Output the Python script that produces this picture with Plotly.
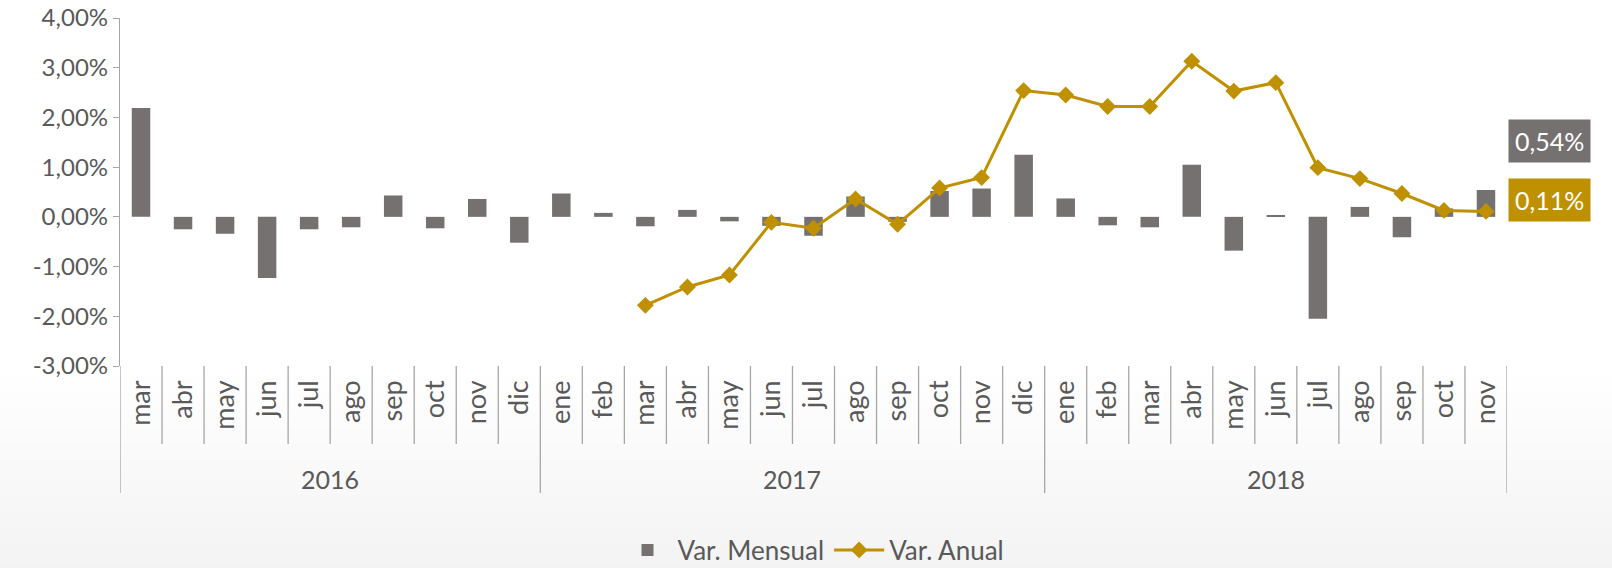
import plotly.graph_objects as go

# ---- data ----
months = ["mar", "abr", "may", "jun", "jul", "ago", "sep", "oct", "nov", "dic",
          "ene", "feb", "mar", "abr", "may", "jun", "jul", "ago", "sep", "oct", "nov", "dic",
          "ene", "feb", "mar", "abr", "may", "jun", "jul", "ago", "sep", "oct", "nov"]
years = ["2016", "2017", "2018"]
year_counts = [10, 12, 11]
y_ticks = [-3, -2, -1, 0, 1, 2, 3, 4]

var_mensual = [2.19, -0.25, -0.34, -1.23, -0.25, -0.21, 0.43, -0.23, 0.36, -0.52,
               0.47, 0.08, -0.19, 0.14, -0.09, -0.18, -0.38, 0.41, -0.10, 0.52, 0.57, 1.25,
               0.37, -0.17, -0.21, 1.05, -0.68, 0.02, -2.05, 0.20, -0.41, 0.17, 0.54]
var_anual = [None] * 12 + [-1.78, -1.41, -1.17, -0.11, -0.23, 0.36, -0.15, 0.58, 0.79, 2.54,
                          2.45, 2.22, 2.22, 3.13, 2.53, 2.70, 0.99, 0.77, 0.47, 0.13, 0.11]

GRAY = "#767171"
GOLD = "#BF9000"
AXIS = "#A6A6A6"
TXT = "#595959"
FONT = "Lato, 'Open Sans', sans-serif"


def fmt(v):
    return f"{v:.2f}".replace(".", ",") + "%"


x = list(range(len(months)))
n = len(months)

fig = go.Figure()
fig.add_trace(go.Bar(x=x, y=var_mensual, name="Var. Mensual", marker_color=GRAY,
                     marker_line_width=0, width=0.44, xaxis="x", yaxis="y"))
fig.add_trace(go.Scatter(x=x, y=var_anual, name="Var. Anual", mode="lines+markers",
                         line=dict(color=GOLD, width=3),
                         marker=dict(symbol="diamond", size=13, color=GOLD),
                         xaxis="x", yaxis="y"))

TOP, BOT = 18, 366
plot_h = BOT - TOP


def px_below(p):
    return -p / plot_h


shapes = []
# background gradient (subtle, lower part of page)
for i in range(12):
    shapes.append(dict(type="rect", xref="paper", yref="paper", x0=-0.2, x1=1.2,
                       y0=px_below(568 - BOT + 5), y1=px_below(10 + i * 17),
                       layer="below",
                       fillcolor="rgba(110,110,110,0.0075)", line=dict(width=0)))

# category separators in the label area
boundaries = [i - 0.5 for i in range(n + 1)]
year_bounds = [-0.5]
acc = -0.5
for c in year_counts:
    acc += c
    year_bounds.append(acc)
for b in boundaries:
    long = any(abs(b - yb) < 1e-9 for yb in year_bounds)
    shapes.append(dict(type="line", xref="x", yref="paper", x0=b, x1=b, y0=0,
                       y1=px_below(127 if long else 78),
                       line=dict(color=AXIS, width=1.3)))

annotations = []
start = -0.5
for yr, c in zip(years, year_counts):
    annotations.append(dict(x=start + c / 2, y=px_below(113), xref="x", yref="paper",
                            text=yr, showarrow=False, font=dict(size=25, color=TXT, family=FONT),
                            xanchor="center", yanchor="middle"))
    start += c

annotations.append(dict(x=1.001, y=1 - (141 - TOP) / plot_h, xref="paper", yref="paper",
                        text=fmt(var_mensual[-1]), showarrow=False, xanchor="left", yanchor="middle",
                        bgcolor=GRAY, borderpad=6, font=dict(size=25, color="white", family=FONT)))
annotations.append(dict(x=1.001, y=1 - (200 - TOP) / plot_h, xref="paper", yref="paper",
                        text=fmt([v for v in var_anual if v is not None][-1]), showarrow=False,
                        xanchor="left", yanchor="middle",
                        bgcolor=GOLD, borderpad=6, font=dict(size=25, color="white", family=FONT)))

fig.update_layout(
    width=1612, height=568,
    margin=dict(l=120, r=105, t=TOP, b=568 - BOT, autoexpand=False),
    paper_bgcolor="white", plot_bgcolor="rgba(0,0,0,0)",
    separators=",.",
    font=dict(family=FONT, color=TXT, size=20),
    showlegend=True,
    legend=dict(orientation="h", x=0.5, xanchor="center", y=px_below(184), yanchor="middle",
                font=dict(size=26, color=TXT), bgcolor="rgba(0,0,0,0)", itemwidth=50,
                traceorder="normal"),
    xaxis=dict(range=[-0.5, n - 0.5], tickvals=x, ticktext=months, tickangle=-90,
               showgrid=False, zeroline=False, showline=False, ticks="", automargin=False,
               tickfont=dict(size=27, color=TXT), ticklabelstandoff=8),
    xaxis2=dict(overlaying="x", anchor="free", position=3 / 7, side="bottom",
                range=[-0.5, n - 0.5], tickvals=boundaries, showticklabels=False,
                ticks="outside", ticklen=8, tickcolor=AXIS, tickwidth=1.3,
                showline=True, linecolor=AXIS, linewidth=1.5, showgrid=False, zeroline=False),
    yaxis=dict(range=[-3, 4], tickvals=y_ticks, ticktext=[fmt(v) for v in y_ticks],
               automargin=False,
               showgrid=False, zeroline=False, showline=True, linecolor=AXIS, linewidth=1.3,
               ticks="outside", ticklen=6, tickcolor=AXIS, tickfont=dict(size=24, color=TXT)),
    shapes=shapes, annotations=annotations,
)

fig.write_html("out.html", config={"displayModeBar": False},
               post_script="document.body.style.margin='0';document.body.style.overflow='hidden';")
